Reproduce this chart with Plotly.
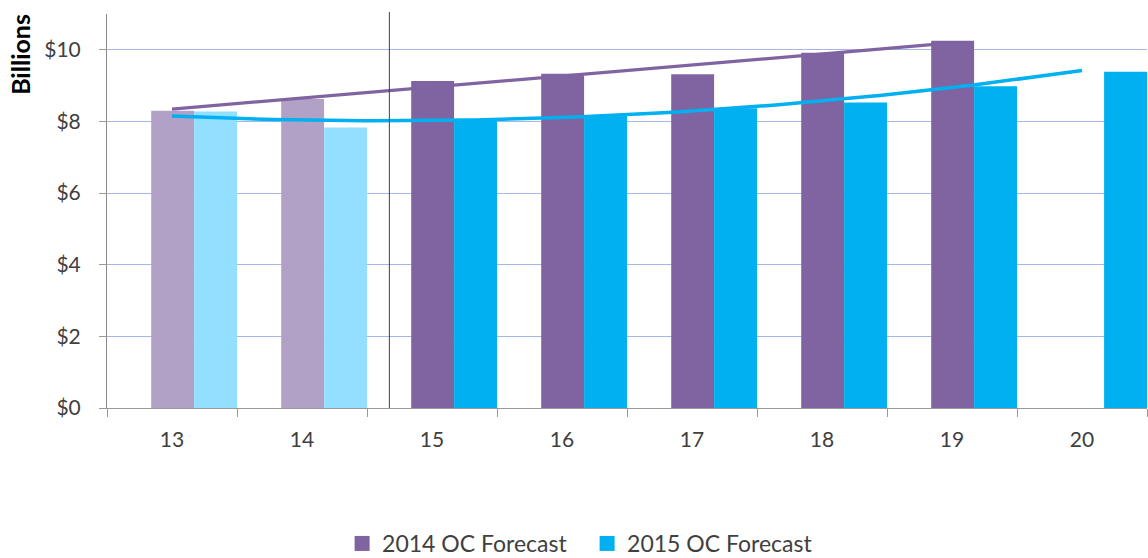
import numpy as np
import plotly.graph_objects as go

categories = ["13", "14", "15", "16", "17", "18", "19", "20"]
forecast_2014 = [8.30, 8.63, 9.13, 9.33, 9.32, 9.92, 10.25, None]
forecast_2015 = [8.28, 7.83, 8.02, 8.16, 8.37, 8.53, 8.98, 9.39]
y_tick_vals = [0, 2, 4, 6, 8, 10]
y_tick_text = ["$0", "$2", "$4", "$6", "$8", "$10"]
series_names = ["2014 OC Forecast", "2015 OC Forecast"]

PURPLE = "#8064A2"
PURPLE_LIGHT = "#B2A1C7"
BLUE = "#00B0F0"
BLUE_LIGHT = "#93DFFF"
n_actual = 2  # first two categories are actuals (lighter shade)

x = np.arange(len(categories))
col14 = [PURPLE_LIGHT if i < n_actual else PURPLE for i in range(len(categories))]
col15 = [BLUE_LIGHT if i < n_actual else BLUE for i in range(len(categories))]

fig = go.Figure()
fig.add_trace(go.Bar(x=x, y=forecast_2014, marker=dict(color=col14, line=dict(width=0)),
                     offset=-0.16, width=0.33, showlegend=False, name=series_names[0]))
fig.add_trace(go.Bar(x=x, y=forecast_2015, marker=dict(color=col15, line=dict(width=0)),
                     offset=0.17, width=0.33, showlegend=False, name=series_names[1]))

# trendlines (linear for 2014, 2nd-order polynomial for 2015)
x14 = np.array([i for i, v in enumerate(forecast_2014) if v is not None], dtype=float)
y14 = np.array([v for v in forecast_2014 if v is not None], dtype=float)
p14 = np.polyfit(x14, y14, 1)
xs14 = np.linspace(x14.min(), x14.max(), 60)
fig.add_trace(go.Scatter(x=xs14, y=np.polyval(p14, xs14), mode="lines",
                         line=dict(color=PURPLE, width=3.2), showlegend=False, hoverinfo="skip"))
x15 = x.astype(float)
p15 = np.polyfit(x15, np.array(forecast_2015, dtype=float), 2)
xs15 = np.linspace(x15.min(), x15.max(), 100)
fig.add_trace(go.Scatter(x=xs15, y=np.polyval(p15, xs15), mode="lines",
                         line=dict(color=BLUE, width=3.5), showlegend=False, hoverinfo="skip"))

# legend entries
fig.add_trace(go.Scatter(x=[None], y=[None], mode="markers", name=series_names[0],
                         marker=dict(symbol="square", size=15, color=PURPLE)))
fig.add_trace(go.Scatter(x=[None], y=[None], mode="markers", name=series_names[1],
                         marker=dict(symbol="square", size=15, color=BLUE)))

fig.add_shape(type="line", xref="x", yref="paper", x0=1.672, x1=1.672, y0=0, y1=1.005,
              line=dict(color="#404040", width=1))

fig.add_annotation(text="<b>Billions</b>", xref="paper", yref="paper", x=-0.083, y=0.898,
                   xanchor="center", yanchor="middle", textangle=-90, showarrow=False,
                   font=dict(family="Lato", size=25, color="#000000"))

font = dict(family="Lato", size=21, color="#404040")
fig.update_layout(
    width=1148, height=558,
    margin=dict(l=107, r=1, t=14, b=150),
    paper_bgcolor="white", plot_bgcolor="white",
    barmode="overlay",
    font=font,
    xaxis=dict(range=[-0.5, 7.5], tickvals=list(x), ticktext=categories, ticks="",
               showgrid=False, zeroline=False, showline=True, linecolor="#9A9A9A", linewidth=1,
               ticklabelstandoff=13, tickfont=font,
               minor=dict(tickvals=[i - 0.5 for i in range(len(categories) + 1)], ticks="outside",
                          ticklen=8, tickcolor="#9A9A9A", showgrid=False)),
    yaxis=dict(range=[0, 11], tickvals=y_tick_vals, ticktext=y_tick_text, ticks="outside",
               ticklen=7, tickcolor="#9A9A9A", showgrid=True, gridcolor="#A6B6E8", gridwidth=1,
               zeroline=False, showline=True, linecolor="#8A8A8A", linewidth=1,
               ticklabelstandoff=14, tickfont=font),
    legend=dict(orientation="h", xref="container", yref="container", x=0.298, xanchor="left",
                y=0.026, yanchor="middle",
                font=dict(family="Lato", size=23, color="#404040"), itemsizing="trace",
                traceorder="normal", entrywidth=200, entrywidthmode="pixels"),
)

fig.write_html("out.html", config={"displayModeBar": False},
               post_script="document.body.style.margin='0';document.body.style.overflow='hidden';")
